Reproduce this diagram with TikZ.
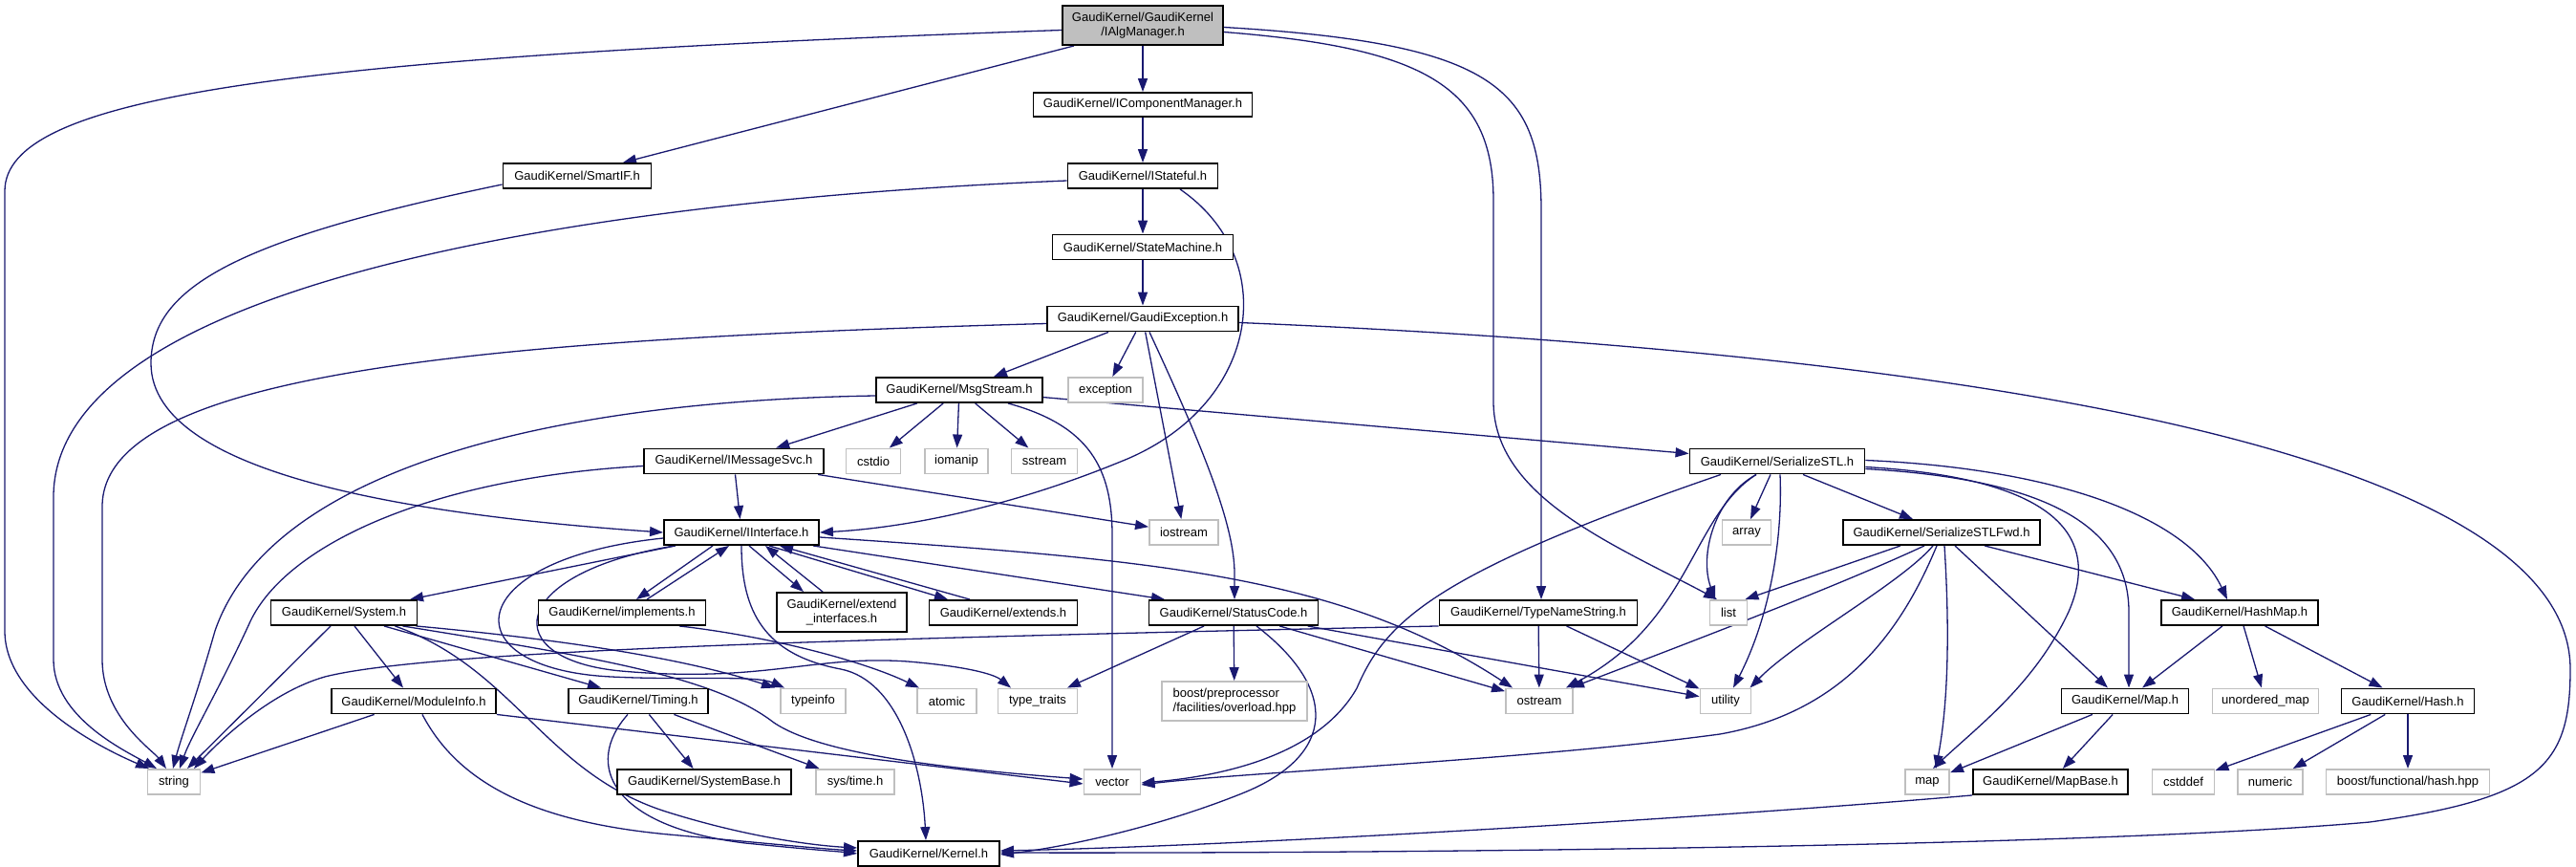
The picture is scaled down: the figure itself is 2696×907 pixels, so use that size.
\documentclass[tikz,border=0pt]{standalone}
\usepackage{fontspec}
\setmainfont{Liberation Sans}
\usetikzlibrary{arrows.meta}
\definecolor{edgec}{HTML}{191970}
\definecolor{gsev}{HTML}{BFBFBF}
\pgfdeclarelayer{bg}
\pgfsetlayers{bg,main}
\tikzset{
  box/.style={draw=black, line width=1.9pt, fill=white, minimum height=26pt, inner sep=0pt, font=\fontsize{13pt}{15pt}\selectfont},
  sysbox/.style={box, draw=gsev},
  mainbox/.style={box, fill=gsev},
  edge/.style={draw=edgec, line width=1.3pt, -{Triangle[length=14pt,width=10pt]}},
}
\begin{document}
\begin{tikzpicture}[x=1pt,y=-1pt]
\useasboundingbox (0,0) rectangle (2696,907);
% nodes
\node[mainbox, minimum width=168pt, minimum height=41pt, align=center] (alg) at (1196,26.5) {GaudiKernel/GaudiKernel\\/IAlgManager.h};
\node[box, minimum width=229pt, minimum height=25pt] (cm) at (1196,109.5) {GaudiKernel/IComponentManager.h};
\node[box, minimum width=155pt] (smart) at (604,184) {GaudiKernel/SmartIF.h};
\node[box, minimum width=157pt] (stateful) at (1196,184) {GaudiKernel/IStateful.h};
\node[box, minimum width=189pt] (sm) at (1196,258.5) {GaudiKernel/StateMachine.h};
\node[box, minimum width=200pt] (gexc) at (1196,333.5) {GaudiKernel/GaudiException.h};
\node[box, minimum width=174pt] (msg) at (1004,408) {GaudiKernel/MsgStream.h};
\node[sysbox, minimum width=78pt] (exc) at (1157,408) {exception};
\node[sysbox, minimum width=57pt] (cstdio) at (914,482.5) {cstdio};
\node[sysbox, minimum width=66pt] (iomanip) at (1001,482.5) {iomanip};
\node[sysbox, minimum width=69pt] (sstream) at (1093,482.5) {sstream};
\node[box, minimum width=188pt] (imsg) at (768,482.5) {GaudiKernel/IMessageSvc.h};
\node[box, minimum width=183pt] (sstl) at (1860,482.5) {GaudiKernel/SerializeSTL.h};
\node[box, minimum width=162pt] (iint) at (776,557) {GaudiKernel/IInterface.h};
\node[sysbox, minimum width=72pt] (iostream) at (1239,557) {iostream};
\node[sysbox, minimum width=51pt] (array) at (1828,557) {array};
\node[box, minimum width=206pt] (sfwd) at (2032,557) {GaudiKernel/SerializeSTLFwd.h};
\node[box, minimum width=153pt] (system) at (360,641) {GaudiKernel/System.h};
\node[box, minimum width=175pt] (impl) at (651,641) {GaudiKernel/implements.h};
\node[box, minimum width=136pt, minimum height=41pt, align=center] (extif) at (881,640.5) {GaudiKernel/extend\\\_interfaces.h};
\node[box, minimum width=155pt] (extends) at (1050,641) {GaudiKernel/extends.h};
\node[box, minimum width=177pt] (status) at (1291,641) {GaudiKernel/StatusCode.h};
\node[box, minimum width=207pt] (tns) at (1610,641) {GaudiKernel/TypeNameString.h};
\node[sysbox, minimum width=39pt] (list) at (1809,641) {list};
\node[box, minimum width=164pt] (hashmap) at (2344,641) {GaudiKernel/HashMap.h};
\node[box, minimum width=172pt] (modinfo) at (433,733.5) {GaudiKernel/ModuleInfo.h};
\node[box, minimum width=146pt] (timing) at (668,733.5) {GaudiKernel/Timing.h};
\node[sysbox, minimum width=68pt] (typeinfo) at (851,733.5) {typeinfo};
\node[sysbox, minimum width=62pt] (atomic) at (991,733.5) {atomic};
\node[sysbox, minimum width=83pt] (ttraits) at (1086,733.5) {type\_traits};
\node[sysbox, minimum width=152pt, minimum height=41pt, align=left] (bpp) at (1292,733.5) {boost/preprocessor\\/facilities/overload.hpp};
\node[sysbox, minimum width=70pt] (ostream) at (1611,733.5) {ostream};
\node[sysbox, minimum width=53pt] (utility) at (1806,733.5) {utility};
\node[box, minimum width=133pt] (maph) at (2224,733.5) {GaudiKernel/Map.h};
\node[sysbox, minimum width=111pt] (umap) at (2371,733.5) {unordered\_map};
\node[box, minimum width=139pt] (hash) at (2520,733.5) {GaudiKernel/Hash.h};
\node[sysbox, minimum width=55pt] (string) at (182,818) {string};
\node[box, minimum width=182pt] (sysbase) at (737,818) {GaudiKernel/SystemBase.h};
\node[sysbox, minimum width=82pt] (systime) at (895,818) {sys/time.h};
\node[sysbox, minimum width=59pt] (vector) at (1164,818) {vector};
\node[sysbox, minimum width=46pt] (map) at (2017,818) {map};
\node[box, minimum width=162pt] (mapbase) at (2146,818) {GaudiKernel/MapBase.h};
\node[sysbox, minimum width=65pt] (cstddef) at (2285,818) {cstddef};
\node[sysbox, minimum width=68pt] (numeric) at (2376,818) {numeric};
\node[sysbox, minimum width=171pt] (bhash) at (2520,818) {boost/functional/hash.hpp};
\node[box, minimum width=148pt] (kernel) at (972,893) {GaudiKernel/Kernel.h};
% edges
\begin{pgfonlayer}{bg}
\begin{scope}[every path/.style={edge}]
% IAlgManager
\draw ([yshift=-5pt]alg.west) .. controls (300,60) and (5,100) .. (5,200) -- (5,660) .. controls (5,730) and (100,780) .. ([xshift=-26pt]string.north);
\draw ([xshift=-72pt]alg.south) -- ([xshift=48pt]smart.north);
\draw (alg) -- (cm);
\draw ([yshift=-2pt]alg.east) .. controls (1560,45) and (1613,90) .. (1613,220) -- ([xshift=3pt]tns.north);
\draw ([yshift=-7pt]alg.east) .. controls (1490,50) and (1563,90) .. (1563,210) -- (1563,420) .. controls (1563,520) and (1690,570) .. ([xshift=-12pt]list.north);
% IComponentManager
\draw (cm) -- (stateful);
% IStateful
\draw ([yshift=-5pt]stateful.west) .. controls (600,210) and (56,300) .. (56,520) -- (56,690) .. controls (56,750) and (130,785) .. ([xshift=-18pt]string.north);
\draw (stateful) -- (sm);
\draw ([xshift=39pt]stateful.south) .. controls (1340,270) and (1320,420) .. (1180,480) .. controls (1060,530) and (950,552) .. (iint.east);
% StateMachine
\draw (sm) -- (gexc);
% GaudiException
\draw ([yshift=-5pt]gexc.west) .. controls (500,355) and (107,390) .. (107,530) -- (107,690) .. controls (107,750) and (160,785) .. ([xshift=-8pt]string.north);
\draw (gexc) -- (msg);
\draw (gexc) -- (exc);
\draw (gexc) -- (iostream);
\draw ([xshift=7pt]gexc.south) .. controls (1260,470) and (1292,550) .. (1292,600) -- ([xshift=1pt]status.north);
\draw ([yshift=-4pt]gexc.east) .. controls (2200,375) and (2690,500) .. (2690,700) .. controls (2690,800) and (2660,835) .. (2480,860) .. controls (2200,885) and (1500,893) .. ([yshift=1pt]kernel.east);
% MsgStream
\draw ([yshift=-6pt]msg.west) .. controls (550,420) and (280,500) .. (225,660) .. controls (205,730) and (190,770) .. ([xshift=-1pt]string.north);
\draw (msg) -- (imsg);
\draw (msg) -- (cstdio);
\draw (msg) -- (iomanip);
\draw (msg) -- (sstream);
\draw ([xshift=51pt]msg.south) .. controls (1140,445) and (1164,490) .. (1164,560) -- (vector.north);
\draw (msg) -- (sstl);
% IMessageSvc
\draw ([yshift=-5pt]imsg.west) .. controls (450,500) and (300,570) .. (262,650) .. controls (230,720) and (200,770) .. ([xshift=6pt]string.north);
\draw (imsg) -- (iint);
\draw (imsg) -- (iostream);
% SmartIF
\draw ([yshift=-9pt]smart.west) .. controls (250,250) and (158,300) .. (158,380) .. controls (158,500) and (450,540) .. (iint.west);
% IInterface
\draw (iint) -- (system);
\draw ([xshift=-30pt]iint.south) -- ([xshift=15pt]impl.north);
\draw ([xshift=26pt]impl.north) -- ([xshift=-13pt]iint.south);
\draw ([xshift=8pt]iint.south) -- ([xshift=-40pt]extif.north);
\draw ([xshift=-20pt]extif.north) -- ([xshift=25pt]iint.south);
\draw ([xshift=29pt]iint.south) -- ([xshift=-58pt]extends.north);
\draw ([xshift=-35pt]extends.north) -- ([xshift=40pt]iint.south);
\draw ([xshift=-7pt]iint.south east) -- ([xshift=-72pt]status.north);
\draw ([yshift=-5pt]iint.east) .. controls (1200,585) and (1400,600) .. ([xshift=-28pt]ostream.north);
\draw ([yshift=-6pt]iint.west) .. controls (480,585) and (470,700) .. (640,708) .. controls (720,712) and (790,706) .. ([xshift=-30pt]typeinfo.north);
\draw ([xshift=-70pt]iint.south) .. controls (530,600) and (520,690) .. (650,702) .. controls (800,715) and (850,685) .. (950,692) .. controls (1010,697) and (1040,705) .. ([xshift=-28pt]ttraits.north);
\draw (iint.south) .. controls (776,640) and (800,685) .. (880,700) .. controls (940,712) and (965,800) .. ([xshift=-3pt]kernel.north);
% implements
\draw ([xshift=60pt]impl.south) .. controls (800,665) and (900,690) .. ([xshift=-29pt]atomic.north);
% System
\draw (system) -- ([xshift=14pt]string.north);
\draw (system) -- (modinfo);
\draw ([xshift=42pt]system.south) -- ([xshift=-39pt]timing.north);
\draw ([xshift=-2pt]system.south east) .. controls (600,670) and (720,690) .. ([xshift=-40pt]typeinfo.north);
\draw ([xshift=-16pt]system.south east) .. controls (640,690) and (750,710) .. (810,756) .. controls (860,790) and (1000,805) .. ([yshift=3pt]vector.west);
\draw ([xshift=-24pt]system.south east) .. controls (540,700) and (570,810) .. (700,850) .. controls (790,878) and (860,885) .. ([yshift=6pt]kernel.west);
% ModuleInfo
\draw (modinfo) -- (string);
\draw ([xshift=9pt]modinfo.south) .. controls (480,820) and (560,860) .. (700,873) .. controls (800,882) and (860,888) .. ([yshift=3pt]kernel.west);
\draw (modinfo.south east) -- ([yshift=-2pt]vector.west);
% Timing
\draw (timing) -- (sysbase);
\draw (timing) -- (systime);
\draw ([xshift=-11pt]timing.south) .. controls (610,800) and (640,865) .. (780,882) .. controls (850,889) and (880,891) .. (kernel.west);
% StatusCode
\draw (status) -- (ttraits);
\draw (status) -- (bpp);
\draw ([xshift=24pt]status.south) .. controls (1400,720) and (1400,790) .. (1300,830) .. controls (1200,870) and (1100,888) .. ([yshift=-1pt]kernel.east);
\draw (status) -- (ostream);
\draw (status) -- (utility);
% TypeNameString
\draw (tns.south west) .. controls (900,668) and (450,680) .. (340,708) .. controls (280,725) and (225,780) .. ([xshift=21pt]string.north);
\draw (tns) -- (ostream);
\draw (tns) -- (utility);
% SerializeSTL
\draw ([xshift=-59pt]sstl.south) .. controls (1500,600) and (1450,650) .. (1420,720) .. controls (1380,790) and (1280,812) .. ([yshift=-1pt]vector.east);
\draw ([xshift=-22pt]sstl.south) .. controls (1795,520) and (1778,580) .. ([xshift=-14pt]list.north);
\draw ([xshift=-22pt]sstl.south) .. controls (1770,540) and (1770,650) .. ([xshift=-8pt]ostream.north east);
\draw ([xshift=3pt]sstl.south) .. controls (1866,570) and (1850,650) .. ([xshift=8pt]utility.north);
\draw ([xshift=-7pt]sstl.south) -- ([xshift=4pt]array.north);
\draw ([xshift=27pt]sstl.south) -- ([xshift=-30pt]sfwd.north);
\draw ([yshift=1pt]sstl.east) .. controls (2150,490) and (2290,540) .. ([xshift=-13pt]hashmap.north);
\draw ([yshift=-6pt]sstl.east) .. controls (2150,500) and (2200,560) .. (2165,640) .. controls (2130,715) and (2070,760) .. ([xshift=6pt]map.north);
\draw ([yshift=-8pt]sstl.east) .. controls (2120,500) and (2228,540) .. (2228,640) -- ([xshift=4pt]maph.north);
% SerializeSTLFwd
\draw ([xshift=-43pt]sfwd.south) -- ([xshift=-3pt]list.north east);
\draw ([xshift=-18pt]sfwd.south) .. controls (1930,610) and (1800,660) .. ([xshift=-3pt]ostream.north east);
\draw ([xshift=-9pt]sfwd.south) .. controls (1990,610) and (1880,670) .. ([xshift=-2pt]utility.north east);
\draw ([xshift=-5pt]sfwd.south) .. controls (1990,660) and (1930,745) .. (1800,768) .. controls (1600,795) and (1300,808) .. ([yshift=-3pt]vector.east);
\draw ([xshift=3pt]sfwd.south) .. controls (2040,650) and (2040,730) .. ([xshift=9pt]map.north);
\draw ([xshift=14pt]sfwd.south) -- ([xshift=-18pt]maph.north);
\draw ([xshift=45pt]sfwd.south) -- ([xshift=-47pt]hashmap.north);
% Map / HashMap / Hash / MapBase
\draw (maph) -- (map);
\draw (maph) -- (mapbase);
\draw (hashmap) -- (maph);
\draw (hashmap) -- (umap);
\draw (hashmap) -- (hash);
\draw (hash) -- (cstddef);
\draw (hash) -- (numeric);
\draw (hash) -- (bhash);
\draw (mapbase.south west) .. controls (1800,855) and (1300,885) .. ([yshift=3pt]kernel.east);
\end{scope}
\end{pgfonlayer}
\end{tikzpicture}
\end{document}
